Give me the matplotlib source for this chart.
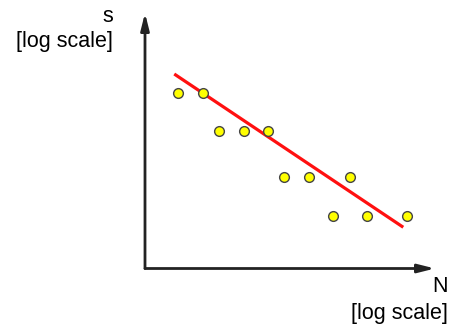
import matplotlib.pyplot as plt

# log N and log s values of the observations (arbitrary log units)
log_n = [1.33, 2.33, 2.96, 3.96, 4.93, 5.57, 6.57, 8.20, 7.53, 8.87, 10.49]
log_s = [7.03, 7.03, 5.50, 5.50, 5.50, 3.65, 3.65, 3.65, 2.11, 2.11, 2.11]

# fitted trend line end points
fit_n = [1.17, 10.33]
fit_s = [7.78, 1.65]

W, H = 453, 329
fig = plt.figure(figsize=(W / 100, H / 100), dpi=100)
plt.rcParams['font.family'] = ['Liberation Sans', 'DejaVu Sans']

x0, y0 = 145, 268.5
ax = fig.add_axes([x0 / W, (H - y0) / H, (435 - x0) / W, (y0 - 13) / H])
ax.set_xlim(0, 11.6)
ax.set_ylim(0, 10.22)
ax.axis('off')

arrow = dict(arrowstyle='-|>,head_length=1.0,head_width=0.25', color='#222222',
             lw=2, shrinkA=0, shrinkB=0)
ax.annotate('', xy=(0, 10.22), xytext=(0, 0), arrowprops=arrow, annotation_clip=False)
ax.annotate('', xy=(11.6, 0), xytext=(0, 0), arrowprops=arrow, annotation_clip=False)

ax.plot(fit_n, fit_s, color='#ff1010', lw=2.3, solid_capstyle='butt', zorder=2)
ax.plot(log_n, log_s, 'o', ms=7, mfc='#ffff00', mec='#444444', mew=1, zorder=3)

fs = 15.5
fig.text(113 / W, 1 - 17 / H, 's', ha='right', va='center', fontsize=fs)
fig.text(113 / W, 1 - 42 / H, '[log scale]', ha='right', va='center', fontsize=fs)
fig.text(448 / W, 1 - 286 / H, 'N', ha='right', va='center', fontsize=fs)
fig.text(448 / W, 1 - 314 / H, '[log scale]', ha='right', va='center', fontsize=fs)

fig.savefig('out.png', dpi=100)
